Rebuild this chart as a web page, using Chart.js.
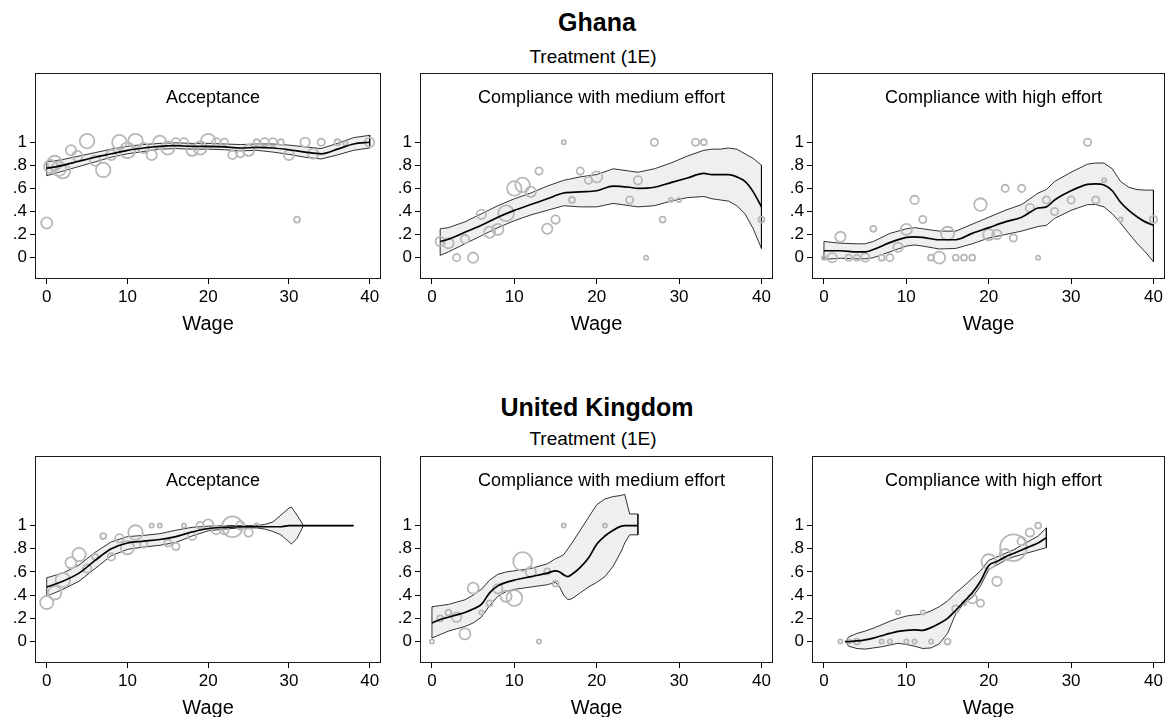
<!DOCTYPE html>
<html>
<head>
<meta charset="utf-8">
<script src="https://cdn.jsdelivr.net/npm/chart.js@4.4.1/dist/chart.umd.min.js"></script>
<style>
  html, body { margin: 0; padding: 0; background: #fff; overflow: hidden; }
  body { width: 1166px; height: 717px; position: relative; font-family: "Liberation Sans", Arial, sans-serif; color: #000; }
  .hdr { position: absolute; width: 600px; text-align: center; white-space: nowrap; }
  .country { font-weight: bold; font-size: 25px; line-height: 25px; }
  .treat { font-size: 19px; line-height: 19px; }
  canvas { position: absolute; }
</style>
</head>
<body>
<div class="hdr country" style="left:297px; top:10px">Ghana</div>
<div class="hdr treat" style="left:293px; top:47px">Treatment (1E)</div>
<div class="hdr country" style="left:297px; top:395px">United Kingdom</div>
<div class="hdr treat" style="left:293px; top:429px">Treatment (1E)</div>

<script>
/* Wage vs. acceptance / compliance — lowess fit with band, weighted scatter */

const xTicks = [0, 10, 20, 30, 40];
const yTicks = [0, 0.2, 0.4, 0.6, 0.8, 1];
const yTickLabels = ["0", ".2", ".4", ".6", ".8", "1"];

// ---- Ghana, acceptance
const ghAccWage = [0, 0.5, 1, 1.5, 2, 3, 3.8, 5, 6, 7, 8, 9, 10, 11, 12, 13, 14, 15, 16, 17, 18, 19, 20, 21, 22, 23, 24, 25, 26, 27, 28, 29, 30, 31, 32, 33, 34, 36, 37, 40];
const ghAccShare = [0.30, 0.79, 0.82, 0.77, 0.75, 0.93, 0.88, 1.01, 0.84, 0.76, 0.89, 1.0, 0.93, 1.01, 0.95, 0.89, 1.0, 0.95, 1.0, 1.0, 0.93, 0.95, 1.01, 1.0, 1.0, 0.89, 0.9, 0.93, 1.0, 1.0, 1.0, 1.0, 0.89, 0.33, 1.0, 0.9, 1.0, 1.0, 0.99, 1.0];
const ghAccN = [7, 10, 12, 12, 12, 6, 6, 12, 6, 12, 6, 12, 14, 12, 6, 6, 10, 10, 4, 4, 7, 10, 12, 4, 3, 4, 3, 7, 2, 4, 4, 2, 6, 2, 5, 6, 3, 2, 1, 5];
const ghAccGrid = [0, 2, 4, 6, 8, 10, 12, 14, 16, 18, 20, 22, 24, 26, 28, 30, 32, 34, 36, 38, 40];
const ghAccFit = [0.775, 0.80, 0.835, 0.87, 0.90, 0.93, 0.95, 0.965, 0.97, 0.965, 0.965, 0.96, 0.95, 0.955, 0.95, 0.935, 0.915, 0.90, 0.94, 0.985, 1.0];
const ghAccHi = [0.83, 0.85, 0.88, 0.91, 0.94, 0.965, 0.98, 0.99, 0.995, 0.99, 0.99, 0.985, 0.98, 0.985, 0.985, 0.975, 0.96, 0.945, 0.99, 1.04, 1.06];
const ghAccLo = [0.71, 0.75, 0.79, 0.83, 0.87, 0.90, 0.92, 0.94, 0.945, 0.94, 0.94, 0.935, 0.925, 0.93, 0.915, 0.895, 0.87, 0.855, 0.89, 0.93, 0.95];

// ---- Ghana, compliance with medium effort
const ghMedWage = [1, 2, 3, 4, 5, 6, 7, 8, 9, 10, 11, 12, 13, 14, 15, 16, 17, 18, 19, 20, 24, 25, 26, 27, 28, 29, 30, 32, 33, 40];
const ghMedShare = [0.14, 0.125, 0, 0.16, 0, 0.375, 0.22, 0.245, 0.385, 0.60, 0.63, 0.57, 0.75, 0.25, 0.33, 1.0, 0.5, 0.75, 0.67, 0.70, 0.5, 0.67, 0, 1.0, 0.33, 0.5, 0.5, 1.0, 1.0, 0.33];
const ghMedN = [5, 6, 3, 4, 6, 5, 7, 7, 14, 12, 12, 6, 3, 6, 4, 1, 2, 3, 3, 7, 3, 4, 1, 3, 2, 1, 1, 3, 2, 2];
const ghMedGrid = [1, 2, 4, 6, 8, 10, 12, 14, 16, 18, 20, 22, 24, 25, 27, 29, 31, 33, 34, 35, 36, 37, 38, 39, 40];
const ghMedFit = [0.14, 0.16, 0.22, 0.28, 0.35, 0.41, 0.46, 0.51, 0.56, 0.57, 0.58, 0.62, 0.61, 0.60, 0.61, 0.65, 0.69, 0.73, 0.72, 0.72, 0.72, 0.70, 0.66, 0.57, 0.44];
const ghMedHi = [0.25, 0.26, 0.31, 0.38, 0.45, 0.51, 0.56, 0.62, 0.67, 0.70, 0.72, 0.77, 0.75, 0.74, 0.77, 0.82, 0.88, 0.93, 0.94, 0.94, 0.95, 0.94, 0.90, 0.86, 0.80];
const ghMedLo = [0.02, 0.05, 0.12, 0.19, 0.26, 0.32, 0.37, 0.41, 0.45, 0.44, 0.44, 0.47, 0.45, 0.44, 0.45, 0.49, 0.52, 0.53, 0.51, 0.50, 0.49, 0.45, 0.38, 0.25, 0.08];

// ---- Ghana, compliance with high effort
const ghHighWage = [0, 1, 2, 3, 4, 5, 6, 7, 8, 9, 10, 11, 12, 13, 14, 15, 16, 17, 18, 19, 20, 21, 22, 23, 24, 25, 26, 27, 28, 30, 32, 33, 34, 36, 40];
const ghHighShare = [0, 0, 0.18, 0, 0, 0, 0.25, 0, 0, 0.09, 0.245, 0.5, 0.33, 0, 0, 0.21, 0, 0, 0, 0.46, 0.20, 0.20, 0.60, 0.17, 0.60, 0.43, 0, 0.5, 0.4, 0.5, 1.0, 0.5, 0.67, 0.33, 0.33];
const ghHighN = [1, 5, 6, 2, 2, 4, 2, 2, 3, 5, 7, 4, 3, 2, 8, 10, 2, 2, 2, 9, 7, 5, 3, 3, 3, 4, 1, 3, 3, 3, 3, 3, 1, 1, 3];
const ghHighGrid = [0, 2, 4, 5, 6, 8, 10, 11, 12, 14, 16, 18, 20, 22, 24, 26, 27, 28, 30, 32, 33, 34, 35, 36, 37, 38, 39, 40];
const ghHighFit = [0.06, 0.06, 0.05, 0.05, 0.07, 0.13, 0.175, 0.18, 0.175, 0.155, 0.155, 0.21, 0.26, 0.31, 0.35, 0.43, 0.44, 0.50, 0.58, 0.635, 0.64, 0.63, 0.58, 0.48, 0.41, 0.355, 0.31, 0.28];
const ghHighHi = [0.14, 0.125, 0.12, 0.12, 0.14, 0.21, 0.25, 0.26, 0.25, 0.23, 0.23, 0.29, 0.35, 0.41, 0.46, 0.56, 0.59, 0.66, 0.74, 0.81, 0.82, 0.82, 0.77, 0.66, 0.61, 0.59, 0.585, 0.585];
const ghHighLo = [-0.015, -0.005, -0.01, -0.01, 0.0, 0.05, 0.10, 0.11, 0.10, 0.075, 0.08, 0.12, 0.17, 0.20, 0.23, 0.27, 0.28, 0.34, 0.41, 0.46, 0.46, 0.44, 0.38, 0.30, 0.21, 0.125, 0.05, -0.035];

// ---- United Kingdom, acceptance
const ukAccWage = [0, 1, 2, 3, 4, 5, 6, 7, 8, 9, 10, 11, 12, 13, 14, 15, 16, 17, 18, 19, 20, 21, 22, 23, 24, 25, 26];
const ukAccShare = [0.337, 0.42, 0.53, 0.68, 0.75, 0.63, 0.73, 0.91, 0.73, 0.89, 0.81, 0.94, 0.84, 1.0, 1.0, 0.85, 0.82, 1.0, 0.91, 1.0, 1.01, 0.96, 0.96, 0.99, 1.0, 0.94, 1.0];
const ukAccN = [10, 10, 12, 7, 10, 4, 2, 2, 3, 4, 10, 12, 3, 1, 1, 3, 3, 1, 4, 3, 6, 4, 4, 24, 4, 4, 1];
const ukAccGrid = [0, 2, 4, 6, 8, 10, 12, 14, 16, 18, 20, 22, 24, 26, 27, 28, 29, 30, 30.3, 31, 31.8, 34, 36, 38];
const ukAccFit = [0.47, 0.52, 0.59, 0.70, 0.80, 0.85, 0.865, 0.88, 0.905, 0.945, 0.975, 0.985, 0.99, 0.99, 0.99, 0.99, 0.99, 1.0, 1.0, 1.0, 1.0, 1.0, 1.0, 1.0];
const ukAccHi = [0.55, 0.59, 0.66, 0.77, 0.86, 0.905, 0.915, 0.93, 0.96, 0.985, 0.995, 1.0, 1.0, 1.0, 1.01, 1.03, 1.09, 1.15, 1.16, 1.09, 1.0, 1.0, 1.0, 1.0];
const ukAccLo = [0.39, 0.45, 0.52, 0.63, 0.74, 0.795, 0.815, 0.83, 0.855, 0.91, 0.955, 0.97, 0.98, 0.98, 0.97, 0.95, 0.92, 0.86, 0.84, 0.89, 1.0, 1.0, 1.0, 1.0];

// ---- United Kingdom, compliance with medium effort
const ukMedWage = [0, 1, 2, 3, 4, 5, 6, 7, 8, 9, 10, 11, 12, 13, 14, 15, 16, 21];
const ukMedShare = [0, 0.20, 0.25, 0.21, 0.066, 0.46, 0.25, 0.33, 0.455, 0.39, 0.375, 0.69, 0.60, 0, 0.605, 0.50, 1.0, 1.0];
const ukMedN = [1, 2, 2, 5, 7, 7, 1, 2, 5, 7, 14, 20, 6, 1, 2, 2, 1, 1];
const ukMedGrid = [0, 1, 2, 3, 4, 5, 6, 7, 8, 9, 10, 12, 14, 15, 15.5, 16, 16.5, 17, 18, 19, 20, 21, 22, 23, 23.4, 24, 25];
const ukMedFit = [0.16, 0.19, 0.21, 0.23, 0.25, 0.28, 0.32, 0.42, 0.48, 0.51, 0.53, 0.56, 0.59, 0.61, 0.60, 0.575, 0.56, 0.58, 0.64, 0.72, 0.84, 0.91, 0.96, 0.995, 1.0, 1.0, 1.0];
const ukMedHi = [0.30, 0.31, 0.32, 0.34, 0.36, 0.40, 0.45, 0.53, 0.58, 0.60, 0.61, 0.63, 0.67, 0.715, 0.73, 0.75, 0.80, 0.85, 0.96, 1.07, 1.18, 1.23, 1.25, 1.26, 1.27, 1.10, 1.10];
const ukMedLo = [0.03, 0.06, 0.09, 0.11, 0.13, 0.16, 0.21, 0.31, 0.39, 0.43, 0.45, 0.47, 0.49, 0.51, 0.47, 0.40, 0.36, 0.37, 0.42, 0.47, 0.51, 0.56, 0.65, 0.78, 0.85, 0.92, 0.92];

// ---- United Kingdom, compliance with high effort
const ukHighWage = [2, 3, 4, 7, 8, 9, 10, 11, 12, 13, 15, 16, 17, 18, 19, 20, 21, 22, 23, 24, 25, 26];
const ukHighShare = [0, 0, 0, 0, 0, 0.25, 0, 0, 0.25, 0, 0, 0.28, 0.33, 0.37, 0.33, 0.69, 0.52, 0.75, 0.81, 0.865, 0.94, 1.0];
const ukHighN = [1, 1, 2, 1, 1, 1, 1, 1, 1, 1, 2, 3, 1, 5, 3, 12, 5, 7, 40, 4, 4, 2];
const ukHighGrid = [2.6, 3, 4, 5, 6, 7, 8, 9, 10, 11, 12, 13, 14, 15, 16, 17, 18, 19, 20, 21, 22, 23, 24, 25, 26, 27];
const ukHighFit = [0.0, 0.0, 0.005, 0.015, 0.03, 0.05, 0.07, 0.087, 0.097, 0.10, 0.097, 0.12, 0.155, 0.20, 0.27, 0.345, 0.42, 0.52, 0.655, 0.69, 0.73, 0.76, 0.79, 0.82, 0.85, 0.895];
const ukHighHi = [0.0, 0.04, 0.07, 0.09, 0.115, 0.145, 0.175, 0.20, 0.22, 0.23, 0.235, 0.265, 0.30, 0.35, 0.42, 0.48, 0.545, 0.61, 0.70, 0.73, 0.76, 0.79, 0.83, 0.87, 0.91, 0.98];
const ukHighLo = [0.0, -0.04, -0.06, -0.065, -0.055, -0.045, -0.03, -0.015, -0.025, -0.04, -0.06, -0.055, -0.02, 0.07, 0.24, 0.33, 0.38, 0.48, 0.62, 0.66, 0.70, 0.73, 0.75, 0.77, 0.79, 0.81];

// layout (frame boxes in page pixels: left, top, right, bottom)
const AXIS_W = 35, XAXIS_H = 57, PAD_T = 3, PAD_R = 3;
const X_MIN = -1.45, X_MAX = 41.4, Y_MIN = -0.185, Y_MAX = 1.6;
const FONT = '"Liberation Sans", Arial, sans-serif';

const PANELS = [
  { title: "Acceptance", box: [35, 73, 381, 279], wage: ghAccWage, share: ghAccShare, n: ghAccN, grid: ghAccGrid, fit: ghAccFit, hi: ghAccHi, lo: ghAccLo },
  { title: "Compliance with medium effort", box: [420, 73, 773, 279], wage: ghMedWage, share: ghMedShare, n: ghMedN, grid: ghMedGrid, fit: ghMedFit, hi: ghMedHi, lo: ghMedLo },
  { title: "Compliance with high effort", box: [812, 73, 1165, 279], wage: ghHighWage, share: ghHighShare, n: ghHighN, grid: ghHighGrid, fit: ghHighFit, hi: ghHighHi, lo: ghHighLo },
  { title: "Acceptance", box: [35, 456, 381, 663], wage: ukAccWage, share: ukAccShare, n: ukAccN, grid: ukAccGrid, fit: ukAccFit, hi: ukAccHi, lo: ukAccLo },
  { title: "Compliance with medium effort", box: [420, 456, 773, 663], wage: ukMedWage, share: ukMedShare, n: ukMedN, grid: ukMedGrid, fit: ukMedFit, hi: ukMedHi, lo: ukMedLo },
  { title: "Compliance with high effort", box: [812, 456, 1165, 663], wage: ukHighWage, share: ukHighShare, n: ukHighN, grid: ukHighGrid, fit: ukHighFit, hi: ukHighHi, lo: ukHighLo },
];

Chart.defaults.font.family = FONT;
Chart.defaults.color = "#000";

// frame around the plot region + panel title inside it
const panelDecor = {
  id: "panelDecor",
  afterDraw(chart, args, opts) {
    const { ctx, chartArea: a } = chart;
    ctx.save();
    ctx.strokeStyle = "#1a1a1a";
    ctx.lineWidth = 1;
    ctx.strokeRect(Math.round(a.left) + 0.5, Math.round(a.top) + 0.5,
      Math.round(a.right - a.left) - 1, Math.round(a.bottom - a.top) - 1);
    ctx.fillStyle = "#000";
    ctx.font = "18px " + FONT;
    ctx.textAlign = "center";
    ctx.textBaseline = "alphabetic";
    ctx.fillText(opts.title, (a.left + a.right) / 2 + 5, a.top + 30);
    ctx.restore();
  },
};

// closed outline: upper edge left->right, lower edge right->left
function bandPolygon(xs, hi, lo) {
  const pts = xs.map((x, i) => ({ x, y: hi[i] }));
  for (let i = xs.length - 1; i >= 0; i--) pts.push({ x: xs[i], y: lo[i] });
  pts.push(pts[0]);
  return pts;
}

const axisGrid = { drawOnChartArea: false, drawTicks: true, tickLength: 5, color: "#000", lineWidth: 1 };

// fixed axis sizes, no extra label padding around the plot area
function fixScale(s, size) {
  if (s.isHorizontal()) s.height = size; else s.width = size;
  s.paddingTop = s.paddingBottom = s.paddingLeft = s.paddingRight = 0;
}

function renderPanel(p) {
  const [l, t, r, b] = p.box;
  const w = r - l + AXIS_W + PAD_R;
  const h = b - t + PAD_T + XAXIS_H;
  const cv = document.createElement("canvas");
  cv.width = w;
  cv.height = h;
  cv.style.left = l - AXIS_W + "px";
  cv.style.top = t - PAD_T + "px";
  cv.style.width = w + "px";
  cv.style.height = h + "px";
  document.body.appendChild(cv);

  new Chart(cv, {
    type: "scatter",
    data: {
      datasets: [
        {
          type: "line",
          data: p.grid.map((x, i) => ({ x, y: p.fit[i] })),
          borderColor: "#000",
          borderWidth: 1.7,
          pointRadius: 0,
          cubicInterpolationMode: "monotone",
          fill: false,
          order: 0,
        },
        {
          type: "scatter",
          data: p.wage.map((x, i) => ({ x, y: p.share[i], n: p.n[i] })),
          pointRadius: (ctx) => (ctx.raw ? 2.1 * Math.sqrt(ctx.raw.n) : 2),
          pointBorderColor: "#b8b8b8",
          pointBackgroundColor: "rgba(0,0,0,0)",
          pointBorderWidth: 1.8,
          order: 1,
        },
        {
          type: "line",
          data: bandPolygon(p.grid, p.hi, p.lo),
          fill: "shape",
          backgroundColor: "#efefef",
          borderColor: "#000",
          borderWidth: 0.8,
          pointRadius: 0,
          tension: 0,
          order: 2,
        },
      ],
    },
    options: {
      responsive: false,
      animation: false,
      events: [],
      layout: { autoPadding: false, padding: { top: PAD_T, right: PAD_R, left: 0, bottom: 0 } },
      plugins: { legend: { display: false }, tooltip: { enabled: false }, panelDecor: { title: p.title } },
      scales: {
        x: {
          type: "linear",
          min: X_MIN,
          max: X_MAX,
          afterBuildTicks: (s) => { s.ticks = xTicks.map((v) => ({ value: v })); },
          afterFit: (s) => fixScale(s, XAXIS_H),
          grid: axisGrid,
          border: { display: false },
          ticks: { font: { size: 17 }, padding: 3, maxRotation: 0, autoSkip: false },
          title: { display: true, text: "Wage", font: { size: 20 }, padding: { top: 0, bottom: 0 } },
        },
        y: {
          type: "linear",
          min: Y_MIN,
          max: Y_MAX,
          afterBuildTicks: (s) => { s.ticks = yTicks.map((v) => ({ value: v })); },
          afterFit: (s) => fixScale(s, AXIS_W),
          grid: axisGrid,
          border: { display: false },
          ticks: { font: { size: 17 }, padding: 3, autoSkip: false, callback: (v) => yTickLabels[yTicks.indexOf(v)] },
        },
      },
    },
    plugins: [panelDecor],
  });
}

PANELS.forEach(renderPanel);
</script>
</body>
</html>
